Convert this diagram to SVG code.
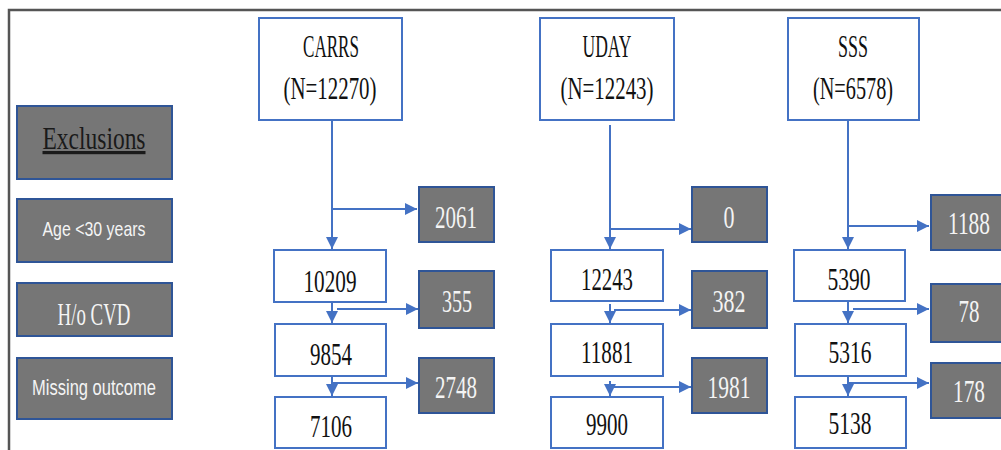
<svg xmlns="http://www.w3.org/2000/svg" width="1001" height="450" viewBox="0 0 1001 450">
<defs>
<marker id="ah" markerUnits="userSpaceOnUse" markerWidth="13" markerHeight="12" refX="12" refY="6" orient="auto">
<path d="M0,0 L12,6 L0,12 z" fill="#4472C4"/>
</marker>
<style>
.w{fill:#ffffff;stroke:#4472C4;stroke-width:2}
.g{fill:#767676;stroke:#2F5597;stroke-width:2}
.t{font-family:"Liberation Serif",serif;fill:#111;text-anchor:middle;font-size:31px}
.tw{font-family:"Liberation Serif",serif;fill:#f4f4f4;text-anchor:middle;font-size:31px}
.sw{font-family:"Liberation Sans",sans-serif;fill:#f4f4f4;text-anchor:middle}
.c{stroke:#4472C4;stroke-width:2;fill:none}
.ca{stroke:#4472C4;stroke-width:2;fill:none;marker-end:url(#ah)}
</style>
</defs>
<rect width="1001" height="450" fill="#ffffff"/>
<path d="M9,450 L9,10 L1001,10" fill="none" stroke="#555" stroke-width="2.5"/>

<g id="legend-exclusions"><rect class="g" x="17" y="106" width="155" height="73"/>
<text x="94" y="149" font-family="Liberation Serif, serif" font-size="32" text-anchor="middle" textLength="103" lengthAdjust="spacingAndGlyphs" text-decoration="underline" fill="#1a1a1a">Exclusions</text></g>
<g id="legend-age"><rect class="g" x="17" y="199" width="155" height="63"/>
<text class="sw" x="94" y="236" font-size="21" textLength="103" lengthAdjust="spacingAndGlyphs">Age &lt;30 years</text></g>
<g id="legend-cvd"><rect class="g" x="17" y="283" width="155" height="53"/>
<text class="tw" x="94" y="325" textLength="73" lengthAdjust="spacingAndGlyphs">H/o CVD</text></g>
<g id="legend-missing"><rect class="g" x="17" y="358" width="155" height="61"/>
<text class="sw" x="94" y="395" font-size="22" textLength="124" lengthAdjust="spacingAndGlyphs">Missing outcome</text></g>

<g id="connectors">
<line class="ca" x1="332" y1="120" x2="332" y2="249"/>
<line class="ca" x1="332" y1="209" x2="417" y2="209"/>
<line class="ca" x1="332" y1="302" x2="332" y2="323"/>
<line class="ca" x1="337" y1="309" x2="418" y2="309"/>
<line class="ca" x1="332" y1="376" x2="332" y2="396"/>
<line class="ca" x1="333" y1="383" x2="418" y2="383"/>

<line class="ca" x1="610" y1="125" x2="610" y2="249"/>
<line class="ca" x1="610" y1="229" x2="691" y2="229"/>
<line class="ca" x1="610" y1="304" x2="610" y2="323"/>
<line class="ca" x1="614" y1="310" x2="691" y2="310"/>
<line class="ca" x1="610" y1="381" x2="610" y2="396"/>
<line class="ca" x1="610" y1="387" x2="691" y2="387"/>

<line class="ca" x1="848" y1="120" x2="848" y2="249"/>
<line class="ca" x1="848" y1="226" x2="929" y2="226"/>
<line class="ca" x1="848" y1="301" x2="848" y2="323"/>
<line class="ca" x1="853" y1="309" x2="929" y2="309"/>
<line class="ca" x1="848" y1="376" x2="848" y2="396"/>
<line class="ca" x1="848" y1="383" x2="929" y2="383"/>
</g>

<g id="carrs"><rect class="w" x="259" y="18" width="143" height="102"/>
<text class="t" x="331" y="57" textLength="56" lengthAdjust="spacingAndGlyphs">CARRS</text>
<text class="t" x="330" y="99" textLength="93" lengthAdjust="spacingAndGlyphs">(N=12270)</text></g>
<g id="carrs-2061"><rect class="g" x="419" y="187" width="75" height="55"/>
<text class="tw" x="456" y="228" textLength="42" lengthAdjust="spacingAndGlyphs">2061</text></g>
<g id="carrs-10209"><rect class="w" x="274" y="250" width="112" height="52"/>
<text class="t" x="330" y="292" textLength="53" lengthAdjust="spacingAndGlyphs">10209</text></g>
<g id="carrs-355"><rect class="g" x="419" y="271" width="75" height="57"/>
<text class="tw" x="457" y="312" textLength="30" lengthAdjust="spacingAndGlyphs">355</text></g>
<g id="carrs-9854"><rect class="w" x="275" y="324" width="111" height="52"/>
<text class="t" x="331" y="365" textLength="42" lengthAdjust="spacingAndGlyphs">9854</text></g>
<g id="carrs-2748"><rect class="g" x="419" y="358" width="75" height="55"/>
<text class="tw" x="456" y="398" textLength="42" lengthAdjust="spacingAndGlyphs">2748</text></g>
<g id="carrs-7106"><rect class="w" x="275" y="397" width="111" height="51"/>
<text class="t" x="331" y="437" textLength="42" lengthAdjust="spacingAndGlyphs">7106</text></g>

<g id="uday"><rect class="w" x="540" y="18" width="134" height="102"/>
<text class="t" x="607" y="57" textLength="49" lengthAdjust="spacingAndGlyphs">UDAY</text>
<text class="t" x="607" y="99" textLength="93" lengthAdjust="spacingAndGlyphs">(N=12243)</text></g>
<g id="uday-0"><rect class="g" x="692" y="187" width="75" height="55"/>
<text class="tw" x="729" y="228" textLength="11" lengthAdjust="spacingAndGlyphs">0</text></g>
<g id="uday-12243"><rect class="w" x="551" y="250" width="112" height="51"/>
<text class="t" x="607" y="290" textLength="52" lengthAdjust="spacingAndGlyphs">12243</text></g>
<g id="uday-382"><rect class="g" x="692" y="271" width="75" height="57"/>
<text class="tw" x="729" y="312" textLength="33" lengthAdjust="spacingAndGlyphs">382</text></g>
<g id="uday-11881"><rect class="w" x="551" y="324" width="112" height="52"/>
<text class="t" x="607" y="363" textLength="52" lengthAdjust="spacingAndGlyphs">11881</text></g>
<g id="uday-1981"><rect class="g" x="692" y="358" width="75" height="55"/>
<text class="tw" x="729" y="398" textLength="43" lengthAdjust="spacingAndGlyphs">1981</text></g>
<g id="uday-9900"><rect class="w" x="551" y="397" width="112" height="51"/>
<text class="t" x="607" y="435" textLength="42" lengthAdjust="spacingAndGlyphs">9900</text></g>

<g id="sss"><rect class="w" x="788" y="18" width="131" height="102"/>
<text class="t" x="853" y="57" textLength="30" lengthAdjust="spacingAndGlyphs">SSS</text>
<text class="t" x="853" y="99" textLength="80" lengthAdjust="spacingAndGlyphs">(N=6578)</text></g>
<g id="sss-1188"><rect class="g" x="931" y="195" width="80" height="55"/>
<text class="tw" x="969" y="234" textLength="42" lengthAdjust="spacingAndGlyphs">1188</text></g>
<g id="sss-5390"><rect class="w" x="794" y="250" width="111" height="51"/>
<text class="t" x="849" y="290" textLength="43" lengthAdjust="spacingAndGlyphs">5390</text></g>
<g id="sss-78"><rect class="g" x="931" y="284" width="80" height="58"/>
<text class="tw" x="969" y="322" textLength="21" lengthAdjust="spacingAndGlyphs">78</text></g>
<g id="sss-5316"><rect class="w" x="795" y="324" width="111" height="52"/>
<text class="t" x="850" y="363" textLength="43" lengthAdjust="spacingAndGlyphs">5316</text></g>
<g id="sss-178"><rect class="g" x="931" y="363" width="80" height="55"/>
<text class="tw" x="969" y="402" textLength="32" lengthAdjust="spacingAndGlyphs">178</text></g>
<g id="sss-5138"><rect class="w" x="795" y="397" width="111" height="51"/>
<text class="t" x="850" y="434" textLength="43" lengthAdjust="spacingAndGlyphs">5138</text></g>
</svg>
